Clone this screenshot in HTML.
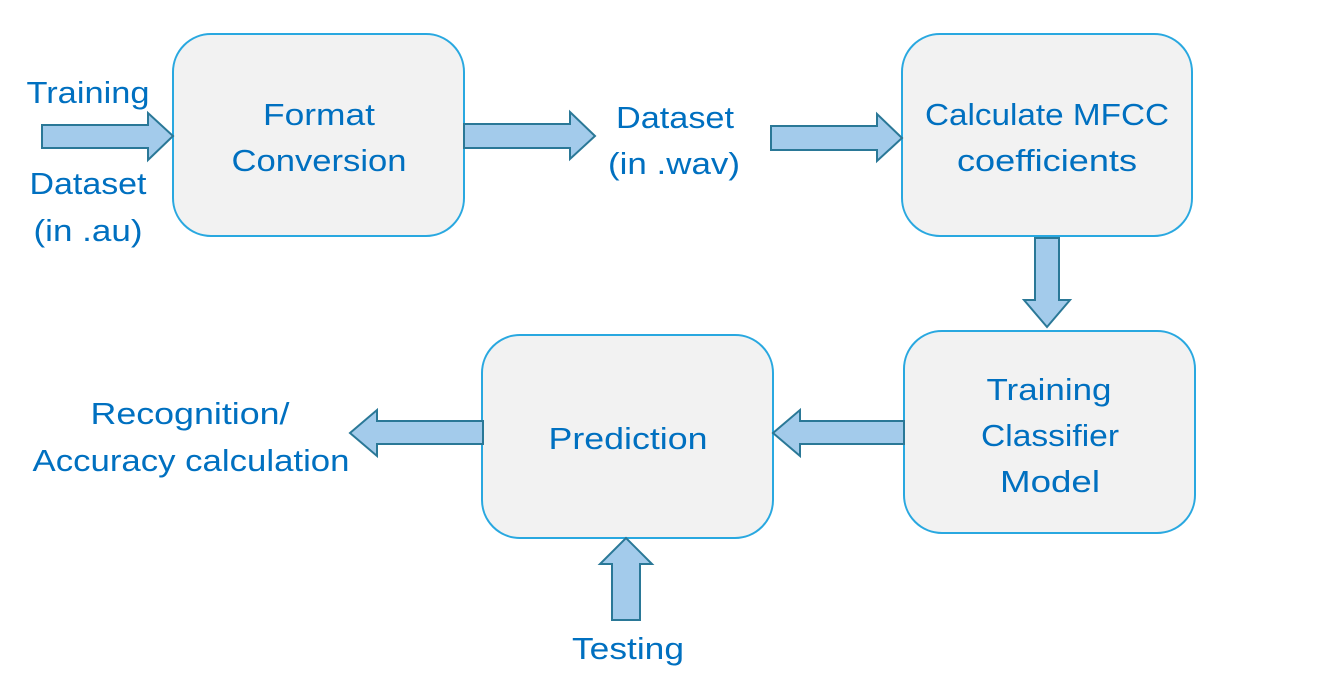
<!DOCTYPE html>
<html><head><meta charset="utf-8"><style>
html,body{margin:0;padding:0;background:#fff;}
svg{display:block;}
text{font-family:"Liberation Sans",sans-serif;font-size:31px;fill:#0070c0;text-anchor:middle;}
</style></head><body>
<svg width="1338" height="679" viewBox="0 0 1338 679" xmlns="http://www.w3.org/2000/svg">
<g fill="#f2f2f2" stroke="#29a8e0" stroke-width="2">
<rect x="173" y="34" width="291" height="202" rx="38"/>
<rect x="902" y="34" width="290" height="202" rx="38"/>
<rect x="904" y="331" width="291" height="202" rx="38"/>
<rect x="482" y="335" width="291" height="203" rx="38"/>
</g>
<g fill="#a3cbeb" stroke="#2a7897" stroke-width="2" stroke-linejoin="miter">
<polygon points="42,125 148,125 148,113 173,136 148,160 148,148 42,148"/>
<polygon points="464,124 570,124 570,112 595,136 570,159 570,148 464,148"/>
<polygon points="771,126 877,126 877,114 902,138 877,161 877,150 771,150"/>
<polygon points="1035,238 1059,238 1059,300 1070,300 1047,327 1024,300 1035,300"/>
<polygon points="904,421 800,421 800,410 773,433 800,456 800,444 904,444"/>
<polygon points="483,421 377,421 377,410 350,433 377,456 377,444 483,444"/>
<polygon points="612,620 640,620 640,564 652,564 626,538 600,564 612,564"/>
</g>
<text x="88" y="103" textLength="123" lengthAdjust="spacingAndGlyphs">Training</text>
<text x="88" y="194" textLength="117" lengthAdjust="spacingAndGlyphs">Dataset</text>
<text x="88" y="241" textLength="109" lengthAdjust="spacingAndGlyphs">(in .au)</text>
<text x="319" y="125" textLength="112" lengthAdjust="spacingAndGlyphs">Format</text>
<text x="319" y="171" textLength="175" lengthAdjust="spacingAndGlyphs">Conversion</text>
<text x="675" y="128" textLength="118" lengthAdjust="spacingAndGlyphs">Dataset</text>
<text x="674" y="174" textLength="132" lengthAdjust="spacingAndGlyphs">(in .wav)</text>
<text x="1047" y="125" textLength="244" lengthAdjust="spacingAndGlyphs">Calculate MFCC</text>
<text x="1047" y="171" textLength="180" lengthAdjust="spacingAndGlyphs">coefficients</text>
<text x="1049" y="400" textLength="125" lengthAdjust="spacingAndGlyphs">Training</text>
<text x="1050" y="446" textLength="138" lengthAdjust="spacingAndGlyphs">Classifier</text>
<text x="1050" y="492" textLength="100" lengthAdjust="spacingAndGlyphs">Model</text>
<text x="628" y="449" textLength="159" lengthAdjust="spacingAndGlyphs">Prediction</text>
<text x="190" y="424" textLength="199" lengthAdjust="spacingAndGlyphs">Recognition/</text>
<text x="191" y="471" textLength="317" lengthAdjust="spacingAndGlyphs">Accuracy calculation</text>
<text x="628" y="659" textLength="112" lengthAdjust="spacingAndGlyphs">Testing</text>
</svg>
</body></html>
